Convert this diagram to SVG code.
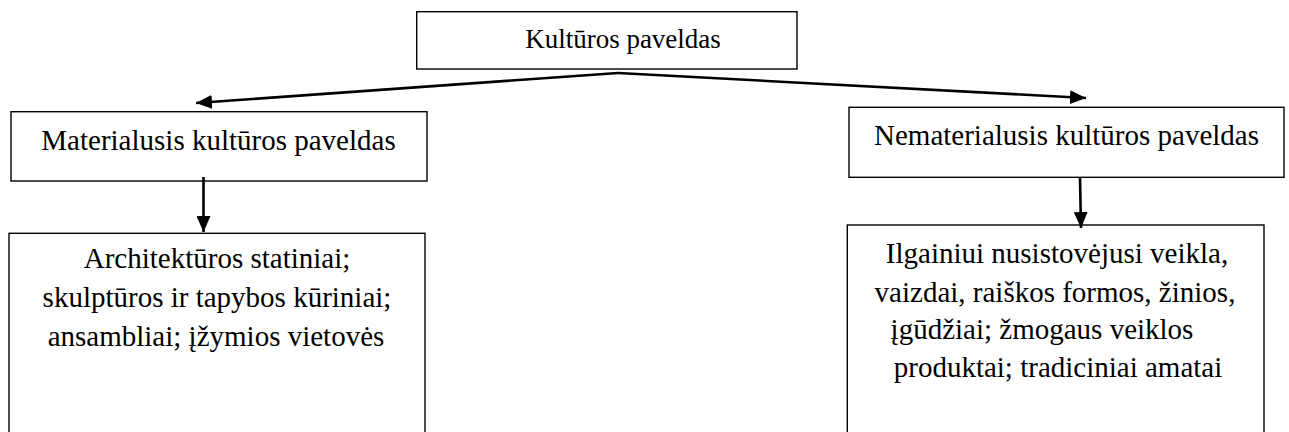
<svg xmlns="http://www.w3.org/2000/svg" width="1289" height="432" viewBox="0 0 1289 432">
<style>
.box{fill:#fff;stroke:#000;stroke-width:1.4}
.t{font-family:"Liberation Serif","Times New Roman",serif;font-size:29px;fill:#000;text-anchor:middle}
.conn{stroke:#000;stroke-width:2.6;fill:none}
</style>
<defs>
<marker id="ah" markerUnits="userSpaceOnUse" markerWidth="17" markerHeight="14" refX="16" refY="7" orient="auto">
<path d="M0,0 L16,7 L0,14 z" fill="#000"/>
</marker>
</defs>
<rect width="1289" height="432" fill="#fff"/>
<g id="root">
<rect class="box" x="416.7" y="11.7" width="380.3" height="57.3"/>
<text class="t" x="623" y="47.5" style="font-size:27px">Kultūros paveldas</text>
</g>
<g id="material">
<rect class="box" x="11" y="111.7" width="416" height="69.3"/>
<text class="t" x="218.5" y="150">Materialusis kultūros paveldas</text>
</g>
<g id="nematerial">
<rect class="box" x="849" y="107.3" width="435" height="70"/>
<text class="t" x="1066.5" y="145">Nematerialusis kultūros paveldas</text>
</g>
<g id="material-items">
<rect class="box" x="9" y="233.3" width="416" height="220"/>
<text class="t" x="217" y="268.3">Architektūros statiniai;</text>
<text class="t" x="217" y="307">skulptūros ir tapybos kūriniai;</text>
<text class="t" x="216" y="345.5">ansambliai; įžymios vietovės</text>
</g>
<g id="nematerial-items">
<rect class="box" x="847.3" y="225" width="416.7" height="230"/>
<text class="t" x="1057" y="263.3">Ilgainiui nusistovėjusi veikla,</text>
<text class="t" x="1055" y="301.7">vaizdai, raiškos formos, žinios,</text>
<text class="t" x="1042" y="338.7">įgūdžiai; žmogaus veiklos</text>
<text class="t" x="1058" y="376.7">produktai; tradiciniai amatai</text>
</g>
<g id="connectors">
<path class="conn" d="M618,73 L196,103" marker-end="url(#ah)"/>
<path class="conn" d="M618,73 L1086,98" marker-end="url(#ah)"/>
<path class="conn" d="M203.5,177 L203.5,232" marker-end="url(#ah)"/>
<path class="conn" d="M1080,178 L1081,228" marker-end="url(#ah)"/>
</g>
</svg>
